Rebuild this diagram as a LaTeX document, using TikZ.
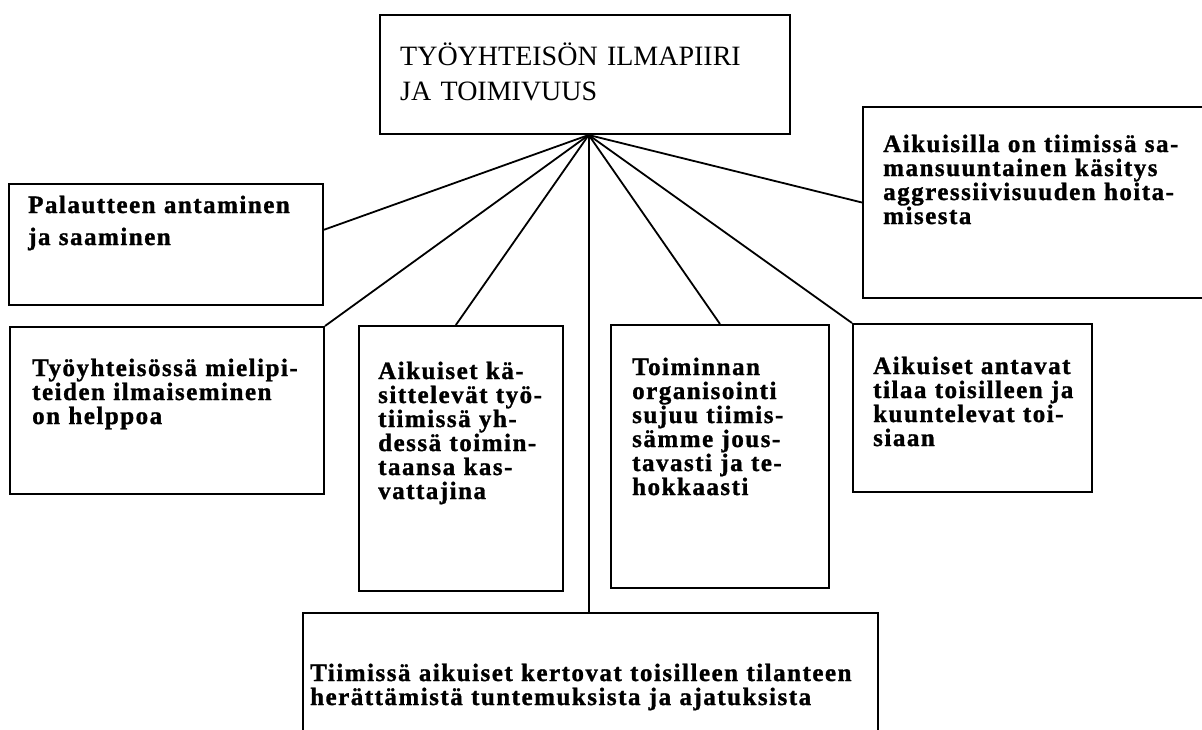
\documentclass[tikz,border=0pt]{standalone}
\usepackage{fontspec}
\setmainfont{Liberation Serif}
\newfontfamily\spacedserif[LetterSpace=6,FakeBold=1.2]{Liberation Serif}
\usetikzlibrary{calc}
\begin{document}
\begin{tikzpicture}[x=1pt,y=-1pt,
  panel/.style={draw, line width=2pt, inner sep=0pt, anchor=north west},
  itemtext/.style={anchor=base west, inner sep=0pt, text width=600pt, align=left,
    font=\spacedserif\bfseries\fontsize{25}{24}\selectfont},
  spoke/.style={line width=1.8pt}]
\useasboundingbox (0,0) rectangle (1202,729);
\clip (0,0) rectangle (1202,729);

% boxes
\node[panel, minimum width=410pt, minimum height=119pt] (title) at (379,14) {};
\node[panel, minimum width=314pt, minimum height=121pt] (pal) at (8,183) {};
\node[panel, minimum width=314pt, minimum height=167pt] (tyo) at (9,326) {};
\node[panel, minimum width=204pt, minimum height=265pt] (kas) at (358,325) {};
\node[panel, minimum width=218pt, minimum height=263pt] (tom) at (610,324) {};
\node[panel, minimum width=239pt, minimum height=168pt] (ant) at (852,323) {};
\node[panel, minimum width=360pt, minimum height=191pt] (agg) at (862,106) {};
\node[panel, minimum width=575pt, minimum height=140pt] (bot) at (302,612) {};

% texts
\node[anchor=base west, inner sep=0pt, text width=500pt, align=left,
  font=\fontsize{28}{35}\selectfont] (titleT) at (400,65)
  {TYÖYHTEISÖN ILMAPIIRI\\JA TOIMIVUUS};
\node[itemtext, font=\spacedserif\bfseries\fontsize{25}{32}\selectfont] (palT) at (28,213)
  {Palautteen antaminen\\ja saaminen};
\node[itemtext] (tyoT) at (32,376)
  {Työyhteisössä mielipi-\\teiden ilmaiseminen\\on helppoa};
\node[itemtext] (kasT) at (378,379)
  {Aikuiset kä-\\sittelevät työ-\\tiimissä yh-\\dessä toimin-\\taansa kas-\\vattajina};
\node[itemtext] (tomT) at (632,375)
  {Toiminnan\\organisointi\\sujuu tiimis-\\sämme jous-\\tavasti ja te-\\hokkaasti};
\node[itemtext] (antT) at (873,374)
  {Aikuiset antavat\\tilaa toisilleen ja\\kuuntelevat toi-\\siaan};
\node[itemtext] (aggT) at (883,152)
  {Aikuisilla on tiimissä sa-\\mansuuntainen käsitys\\aggressiivisuuden hoita-\\misesta};
\node[itemtext] (botT) at (310,681)
  {Tiimissä aikuiset kertovat toisilleen tilanteen\\herättämistä tuntemuksista ja ajatuksista};

% spokes from the hub under the title box
\coordinate (hub) at ($(title.south west)!0.509!(title.south east)$);
\draw[spoke] (hub) -- ($(pal.north east)!0.38!(pal.south east)$);
\draw[spoke] (hub) -- (tyo.north east);
\draw[spoke] (hub) -- ($(kas.north west)!0.475!(kas.north east)$);
\draw[spoke] (hub) -- (hub |- bot.north);
\draw[spoke] (hub) -- (tom.north);
\draw[spoke] (hub) -- (ant.north west);
\draw[spoke] (hub) -- (agg.west);
\end{tikzpicture}
\end{document}
